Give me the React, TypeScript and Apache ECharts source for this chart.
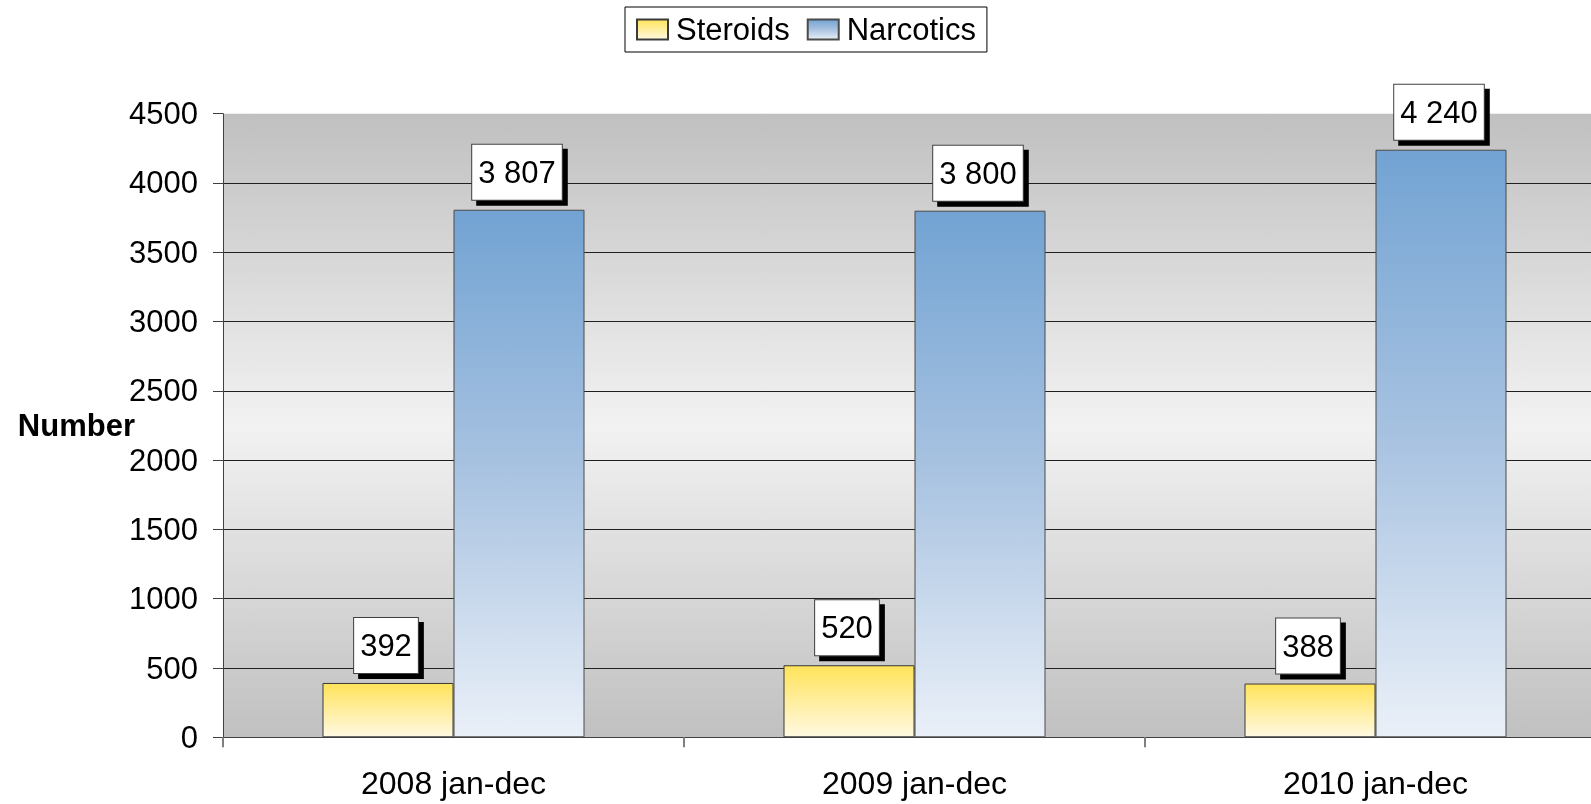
import React, { useEffect, useRef } from "react";
import * as echarts from "echarts";

const categories = ["2008 jan-dec", "2009 jan-dec", "2010 jan-dec"];
const steroids = [392, 520, 388];
const narcotics = [3807, 3800, 4240];
const seriesNames = ["Steroids", "Narcotics"];
const yAxisName = "Number";

const FONT = "'Liberation Sans', Arial, sans-serif";

const fmt = (v: number) => String(v).replace(/\B(?=(\d{3})+(?!\d))/g, " ");

export default function App() {
  const ref = useRef<HTMLDivElement>(null);
  useEffect(() => {
    document.body.style.margin = "0";
    const chart = echarts.init(ref.current!, null, { renderer: "svg" });
    const G = echarts.graphic.LinearGradient;
    const label = {
      show: true,
      position: "top",
      distance: 10,
      offset: [-2, 0],
      formatter: (p: any) => fmt(p.value),
      color: "#000",
      fontSize: 31,
      fontFamily: FONT,
      lineHeight: 33,
      backgroundColor: "#fff",
      borderColor: "#404040",
      borderWidth: 1,
      padding: [11, 6],
      shadowColor: "#000",
      shadowBlur: 0,
      shadowOffsetX: 5,
      shadowOffsetY: 5,
    };
    chart.setOption({
      animation: false,
      textStyle: { fontFamily: FONT },
      legend: {
        left: 625,
        top: 7,
        padding: [7, 11],
        itemWidth: 31,
        itemHeight: 20,
        itemGap: 17,
        icon: "rect",
        borderColor: "#000",
        borderWidth: 1,
        backgroundColor: "#fff",
        textStyle: { fontSize: 31, color: "#000", fontFamily: FONT, padding: [0, 0, 0, 3] },
        data: seriesNames,
      },
      grid: {
        left: 223,
        top: 113.7,
        bottom: 66.7,
        width: 1383,
        outerBoundsMode: "none",
        containLabel: false,
        show: true,
        borderWidth: 0,
        backgroundColor: new G(0, 0, 0, 1, [
          { offset: 0, color: "#c0c0c0" },
          { offset: 0.5, color: "#f2f2f2" },
          { offset: 1, color: "#c0c0c0" },
        ]),
      },
      xAxis: {
        type: "category",
        data: categories,
        axisLine: { lineStyle: { color: "#404040", width: 1 } },
        axisTick: { show: true, length: 10, lineStyle: { color: "#7f7f7f", width: 2 } },
        axisLabel: { fontSize: 32, color: "#000", margin: 30, fontFamily: FONT },
      },
      yAxis: {
        type: "value",
        min: 0,
        max: 4500,
        interval: 500,
        name: yAxisName,
        nameLocation: "middle",
        nameRotate: 0,
        nameGap: 88,
        nameMoveOverlap: false,
        nameTextStyle: { fontSize: 31, fontWeight: "bold", color: "#000", fontFamily: FONT, align: "right" },
        axisLine: { show: true, lineStyle: { color: "#404040", width: 1 } },
        axisTick: { show: true, length: 10, lineStyle: { color: "#404040", width: 1 } },
        axisLabel: { fontSize: 31, color: "#000", margin: 25, fontFamily: FONT, formatter: (v: number) => String(v) },
        splitLine: { show: true, showMaxLine: false, showMinLine: false, lineStyle: { color: "#202020", width: 1 } },
      },
      series: [
        {
          name: seriesNames[0],
          type: "bar",
          data: steroids,
          barWidth: 131,
          barGap: "0%",
          itemStyle: {
            color: new G(0, 0, 0, 1, [
              { offset: 0, color: "#ffe35a" },
              { offset: 1, color: "#fff9e2" },
            ]),
            borderColor: "#3a3a3a",
            borderWidth: 1,
          },
          label,
        },
        {
          name: seriesNames[1],
          type: "bar",
          data: narcotics,
          barWidth: 131,
          barGap: "0%",
          itemStyle: {
            color: new G(0, 0, 0, 1, [
              { offset: 0, color: "#72a3d3" },
              { offset: 0.5, color: "#a9c3e1" },
              { offset: 1, color: "#eaf0f8" },
            ]),
            borderColor: "#4a4a4a",
            borderWidth: 1,
          },
          label,
        },
      ],
    });
    return () => chart.dispose();
  }, []);
  return (
    <div
      ref={ref}
      style={{ position: "fixed", left: 0, top: 0, width: 1591, height: 804 }}
    />
  );
}
